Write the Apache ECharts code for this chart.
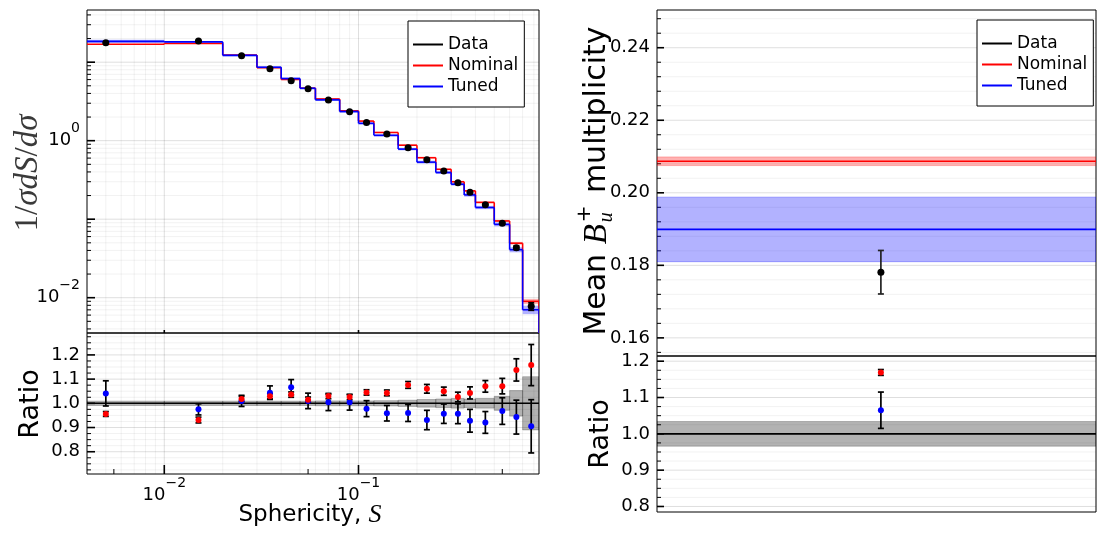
<!DOCTYPE html>
<html><head><meta charset="utf-8">
<script src="https://cdn.jsdelivr.net/npm/echarts@6/dist/echarts.min.js"></script>
<style>html,body{margin:0;padding:0;background:#fff}#c{width:1097px;height:538px}</style>
</head><body><div id="c"></div>
<script>
// ---------------- data ----------------
const binEdges = [0, 0.01, 0.02, 0.03, 0.04, 0.05, 0.06, 0.08, 0.1, 0.12, 0.16, 0.2, 0.25, 0.3, 0.35, 0.4, 0.5, 0.6, 0.7, 0.85];
const binCenters = [0.005, 0.015, 0.025, 0.035, 0.045, 0.055, 0.07, 0.09, 0.11, 0.14, 0.18, 0.225, 0.275, 0.325, 0.375, 0.45, 0.55, 0.65, 0.775];
const dataValues = [17.7, 18.6, 12.1, 8.26, 5.81, 4.6, 3.3, 2.34, 1.70, 1.22, 0.814, 0.573, 0.411, 0.292, 0.220, 0.153, 0.0887, 0.0434, 0.00776];
const dataRelErr = [0.009, 0.009, 0.009, 0.009, 0.009, 0.009, 0.010, 0.010, 0.010, 0.011, 0.013, 0.016, 0.018, 0.020, 0.018, 0.020, 0.029, 0.053, 0.110];
const nominalValues = [16.92, 17.32, 12.32, 8.50, 6.02, 4.67, 3.40, 2.40, 1.777, 1.272, 0.876, 0.607, 0.432, 0.300, 0.2295, 0.1637, 0.0950, 0.0494, 0.00899];
const tunedValues = [18.43, 18.14, 12.22, 8.62, 6.19, 4.65, 3.31, 2.35, 1.663, 1.170, 0.781, 0.533, 0.393, 0.279, 0.204, 0.141, 0.0859, 0.0409, 0.00702];
const nominalRatio = [0.956, 0.931, 1.018, 1.029, 1.036, 1.015, 1.030, 1.026, 1.045, 1.043, 1.076, 1.060, 1.050, 1.026, 1.043, 1.070, 1.071, 1.138, 1.158];
const tunedRatio = [1.041, 0.975, 1.010, 1.044, 1.066, 1.010, 1.004, 1.004, 0.978, 0.959, 0.960, 0.931, 0.957, 0.957, 0.928, 0.921, 0.968, 0.943, 0.905];
const nominalRatioErr = [0.010, 0.012, 0.011, 0.011, 0.011, 0.011, 0.011, 0.011, 0.011, 0.012, 0.014, 0.018, 0.017, 0.020, 0.025, 0.024, 0.032, 0.046, 0.085];
const tunedRatioErr = [0.052, 0.023, 0.023, 0.028, 0.032, 0.032, 0.034, 0.032, 0.033, 0.032, 0.035, 0.040, 0.040, 0.041, 0.047, 0.045, 0.055, 0.070, 0.110];

const meanNames = ['Data', 'Nominal', 'Tuned'];
const meanValues = [0.1781, 0.2087, 0.1899];
const meanErrors = [0.0060, 0.0012, 0.0089];
const meanRatios = [1.0, 1.169, 1.065];
const meanRatioErrors = [0.034, 0.008, 0.050];
const meanX = [0.51];

const xTickExps = [-2, -1];
const yTopTickExps = [-2, 0];
const xExtraTicks = [0.0055, 0.055, 0.55];

// ---------------- axes ranges ----------------
const X_MIN = 0.004, X_MAX = 0.85;
const Y0_MIN = 0.00355, Y0_MAX = 46.2;
const R_MIN = 0.708, R_MAX = 1.2905;
const M_MIN = 0.155, M_MAX = 0.2504;
const MR_MIN = 0.7848, MR_MAX = 1.2143;

const RED = '#ff0000', BLUE = '#0000ff';
const MAJOR = 'rgba(0,0,0,0.13)', MINOR = 'rgba(0,0,0,0.055)';
const FONT = '"DejaVu Sans"';

function logGridValues(minV, maxV, majTick, minTick) {
  const out = [];
  for (let k = -4; k <= 2; k++) for (let m = 1; m <= 9; m++) {
    const v = +(m * Math.pow(10, k)).toPrecision(6);
    if (v > minV * 1.0001 && v < maxV * 0.9999) out.push([v, m === 1 ? 2 : 1, m === 1 ? majTick : minTick]);
  }
  return out;
}
function linGridValues(minV, maxV, step, majorEvery, majTick, minTick) {
  const out = [];
  const s = Math.ceil(minV / step - 1e-9), e = Math.floor(maxV / step + 1e-9);
  for (let n = s; n <= e; n++) {
    const v = +(n * step).toFixed(6);
    const maj = n % majorEvery === 0;
    out.push([v, maj ? 2 : 1, maj ? majTick : minTick]);
  }
  return out;
}
function vGuides(gi, items, yRef) {
  return {
    type: 'custom', xAxisIndex: gi, yAxisIndex: gi, silent: true, z: 1, clip: false,
    data: items.map(d => [d[0], yRef, d[1], d[2]]),
    renderItem(params, api) {
      const cs = params.coordSys;
      const x = api.coord([api.value(0), yRef])[0];
      const lvl = api.value(2), len = api.value(3);
      const ch = [];
      if (lvl > 0) ch.push({ type: 'line', shape: { x1: x, y1: cs.y, x2: x, y2: cs.y + cs.height }, style: { stroke: lvl === 2 ? MAJOR : MINOR, lineWidth: 1 } });
      if (len > 0) ch.push({ type: 'line', shape: { x1: x, y1: cs.y + cs.height, x2: x, y2: cs.y + cs.height - len }, style: { stroke: '#000', lineWidth: lvl === 2 ? 1.6 : 1 } });
      return { type: 'group', children: ch };
    }
  };
}
function hGuides(gi, items, xRef) {
  return {
    type: 'custom', xAxisIndex: gi, yAxisIndex: gi, silent: true, z: 1, clip: false,
    data: items.map(d => [xRef, d[0], d[1], d[2]]),
    renderItem(params, api) {
      const cs = params.coordSys;
      const y = api.coord([xRef, api.value(1)])[1];
      const lvl = api.value(2), len = api.value(3);
      const ch = [];
      if (lvl > 0) ch.push({ type: 'line', shape: { x1: cs.x, y1: y, x2: cs.x + cs.width, y2: y }, style: { stroke: lvl === 2 ? MAJOR : MINOR, lineWidth: 1 } });
      if (len > 0) ch.push({ type: 'line', shape: { x1: cs.x, y1: y, x2: cs.x + len, y2: y }, style: { stroke: '#000', lineWidth: lvl === 2 ? 1.6 : 1 } });
      return { type: 'group', children: ch };
    }
  };
}
function stepSeries(name, values, errs, color, fill, z) {
  return {
    type: 'custom', name, xAxisIndex: 0, yAxisIndex: 0, z, clip: true, silent: true,
    itemStyle: { color },
    data: values.map((v, i) => [binCenters[i], v]),
    renderItem(params, api) {
      const i = params.dataIndex, v = values[i], e = dataValues[i] * errs[i];
      const lo = Math.max(binEdges[i], X_MIN), hi = binEdges[i + 1];
      const a = api.coord([lo, v]), b = api.coord([hi, v]);
      const t = api.coord([lo, v + e]), u = api.coord([hi, v - e]);
      const next = i < values.length - 1 ? values[i + 1] : Y0_MIN;
      const c = api.coord([hi, next]);
      return {
        type: 'group', children: [
          { type: 'rect', shape: { x: t[0], y: t[1], width: u[0] - t[0], height: u[1] - t[1] }, style: { fill } },
          { type: 'line', shape: { x1: a[0], y1: a[1], x2: b[0], y2: b[1] }, style: { stroke: color, lineWidth: 1.6 } },
          { type: 'line', shape: { x1: b[0], y1: b[1], x2: c[0], y2: c[1] }, style: { stroke: color, lineWidth: 1.6 } }
        ]
      };
    }
  };
}
function errorBars(gi, xs, ys, errs, color, cap, z) {
  return {
    type: 'custom', xAxisIndex: gi, yAxisIndex: gi, silent: true, z, clip: true,
    data: xs.map((x, i) => [x, ys[i], errs[i]]),
    renderItem(params, api) {
      const x = api.value(0), y = api.value(1), e = api.value(2);
      const t = api.coord([x, y + e]), b = api.coord([x, y - e]);
      const st = { stroke: color, lineWidth: 1.7 };
      return {
        type: 'group', children: [
          { type: 'line', shape: { x1: t[0], y1: t[1], x2: b[0], y2: b[1] }, style: st },
          { type: 'line', shape: { x1: t[0] - cap, y1: t[1], x2: t[0] + cap, y2: t[1] }, style: st },
          { type: 'line', shape: { x1: b[0] - cap, y1: b[1], x2: b[0] + cap, y2: b[1] }, style: st }
        ]
      };
    }
  };
}
function points(gi, name, xs, ys, color, size, z) {
  return {
    type: 'scatter', name, xAxisIndex: gi, yAxisIndex: gi, z, silent: true,
    symbol: 'circle', symbolSize: size, itemStyle: { color, opacity: 1 },
    data: xs.map((x, i) => [x, ys[i]])
  };
}
function fullBand(gi, xRef, value, err, lineColor, fill, edge, lw, z, name) {
  return {
    type: 'custom', name, xAxisIndex: gi, yAxisIndex: gi, silent: true, z, clip: true,
    itemStyle: { color: lineColor },
    data: [[xRef, value, err]],
    renderItem(params, api) {
      const cs = params.coordSys;
      const y = api.coord([xRef, value])[1];
      const yt = api.coord([xRef, value + err])[1], yb = api.coord([xRef, value - err])[1];
      const ch = [];
      if (err > 0) ch.push({ type: 'rect', shape: { x: cs.x, y: yt, width: cs.width, height: yb - yt }, style: { fill, stroke: edge, lineWidth: 1 } });
      ch.push({ type: 'line', shape: { x1: cs.x, y1: y, x2: cs.x + cs.width, y2: y }, style: { stroke: lineColor, lineWidth: lw } });
      return { type: 'group', children: ch };
    }
  };
}

const supRich = {
  b: { fontSize: 18, fontFamily: FONT, color: '#000' },
  s: { fontSize: 14, fontFamily: FONT, color: '#000', padding: [0, 0, 24, 0] }
};
function logLabel(v, exps) {
  const lg = Math.log10(v), e = Math.round(lg);
  if (Math.abs(lg - e) > 1e-6 || exps.indexOf(e) < 0) return '';
  return '{b|10}{s|' + (e < 0 ? '\u2212' + (-e) : String(e)) + '}';
}
function decLabel(v, step, digits) {
  const n = v / step;
  if (Math.abs(n - Math.round(n)) > 1e-6) return '';
  return v.toFixed(digits);
}
const hiddenAxis = { axisLine: { show: false }, axisTick: { show: false }, splitLine: { show: false } };

// ---------------- series ----------------
const series = [];
// grid 0
series.push(vGuides(0, logGridValues(X_MIN, X_MAX, 3, 0), Y0_MIN));
series.push(hGuides(0, logGridValues(Y0_MIN, Y0_MAX, 8, 4), X_MIN));
series.push(stepSeries('Nominal', nominalValues, nominalRatioErr, RED, 'rgba(255,0,0,0.3)', 3));
series.push(stepSeries('Tuned', tunedValues, tunedRatioErr, BLUE, 'rgba(0,0,255,0.3)', 4));
series.push(errorBars(0, binCenters, dataValues, dataValues.map((d, i) => d * dataRelErr[i]), '#000', 3, 5));
series.push(points(0, 'Data', binCenters, dataValues, '#000', 7, 6));
// grid 1
series.push(vGuides(1, logGridValues(X_MIN, X_MAX, 9, 0).concat(xExtraTicks.map(v => [v, 0, 5])), R_MIN));
series.push(hGuides(1, linGridValues(R_MIN, R_MAX, 0.025, 4, 8, 4), X_MIN));
series.push({
  type: 'custom', xAxisIndex: 1, yAxisIndex: 1, z: 2, clip: true, silent: true,
  data: dataRelErr.map((e, i) => [binCenters[i], 1]),
  renderItem(params, api) {
    const i = params.dataIndex, e = dataRelErr[i];
    const lo = Math.max(binEdges[i], X_MIN), hi = binEdges[i + 1];
    const t = api.coord([lo, 1 + e]), u = api.coord([hi, 1 - e]);
    return { type: 'rect', shape: { x: t[0], y: t[1], width: u[0] - t[0], height: u[1] - t[1] }, style: { fill: 'rgba(0,0,0,0.3)', stroke: 'rgba(0,0,0,0.22)', lineWidth: 1 } };
  }
});
series.push(fullBand(1, X_MIN, 1, 0, '#000', 'none', 'none', 1.6, 3));
series.push(errorBars(1, binCenters, tunedRatio, tunedRatioErr, '#000', 3, 4));
series.push(errorBars(1, binCenters, nominalRatio, nominalRatioErr, '#000', 3, 4));
series.push(points(1, null, binCenters, tunedRatio, BLUE, 6, 5));
series.push(points(1, null, binCenters, nominalRatio, RED, 6, 6));
// grid 2
series.push(hGuides(2, linGridValues(M_MIN, M_MAX, 0.004, 5, 7, 4), 0.5));
series.push(fullBand(2, 0.5, meanValues[1], meanErrors[1], RED, 'rgba(255,0,0,0.3)', 'rgba(255,0,0,0.25)', 1.6, 3));
series.push(fullBand(2, 0.5, meanValues[2], meanErrors[2], BLUE, 'rgba(0,0,255,0.3)', 'rgba(0,0,255,0.3)', 1.6, 4));
series.push(errorBars(2, meanX, [meanValues[0]], [meanErrors[0]], '#222', 3, 5));
series.push(points(2, null, meanX, [meanValues[0]], '#000', 7, 6));
// grid 3
series.push(hGuides(3, linGridValues(MR_MIN, MR_MAX, 0.025, 4, 7, 4), 0.5));
series.push(fullBand(3, 0.5, meanRatios[0], meanRatioErrors[0], '#000', 'rgba(0,0,0,0.3)', 'rgba(0,0,0,0.22)', 1.6, 3));
series.push(errorBars(3, meanX.concat(meanX), [meanRatios[2], meanRatios[1]], [meanRatioErrors[2], meanRatioErrors[1]], '#000', 3, 4));
series.push(points(3, null, meanX, [meanRatios[2]], BLUE, 6, 5));
series.push(points(3, null, meanX, [meanRatios[1]], RED, 6, 6));

const legendData = [
  { name: 'Data', itemStyle: { color: '#000' } },
  { name: 'Nominal', itemStyle: { color: RED } },
  { name: 'Tuned', itemStyle: { color: BLUE } }
];
function legendAt(left, top) {
  return {
    left, top, orient: 'vertical', data: legendData, icon: 'rect', itemWidth: 30, itemHeight: 2,
    itemGap: 4, padding: [15, 6, 12, 5], borderColor: '#000', borderWidth: 1, backgroundColor: '#fff',
    selectedMode: false, textStyle: { fontSize: 17, color: '#000', fontFamily: FONT }
  };
}

// right y-label (Mean B_u^+ multiplicity) built from measured parts
const mctx = document.createElement('canvas').getContext('2d');
function tw(t, f) { mctx.font = f; return mctx.measureText(t).width; }
const fMain = '30px "DejaVu Sans"', fB = 'italic 33px "Liberation Serif"', fS = 'italic 20px "Liberation Serif"', fP = '20px "DejaVu Sans"';
const parts = [
  { t: 'Mean ', f: fMain, dy: 0, adv: true },
  { t: 'B', f: fB, dy: 0, adv: true },
  { t: '+', f: fP, dy: -12, adv: false },
  { t: 'u', f: fS, dy: 10, adv: true },
  { t: '  multiplicity', f: fMain, dy: 0, adv: true }
];
let total = 0; parts.forEach(p => { if (p.adv) total += tw(p.t, p.f) + (p.t === 'B' ? 2 : 0); });
let cur = -total / 2; const labelChildren = [];
parts.forEach(p => {
  labelChildren.push({ type: 'text', x: cur, y: p.dy, style: { text: p.t, font: p.f, fill: '#000', align: 'left', verticalAlign: 'middle' } });
  if (p.adv) cur += tw(p.t, p.f) + (p.t === 'B' ? 2 : 0);
});

const option = {
  animation: false,
  backgroundColor: '#fff',
  textStyle: { fontFamily: FONT },
  grid: [
    { left: 87, top: 10, width: 452, height: 323, show: true, borderColor: '#000', borderWidth: 1, backgroundColor: 'transparent' },
    { left: 87, top: 333, width: 452, height: 141, show: true, borderColor: '#000', borderWidth: 1, backgroundColor: 'transparent' },
    { left: 657, top: 10, width: 439, height: 346, show: true, borderColor: '#000', borderWidth: 1, backgroundColor: 'transparent' },
    { left: 657, top: 356, width: 439, height: 156, show: true, borderColor: '#000', borderWidth: 1, backgroundColor: 'transparent' }
  ],
  xAxis: [
    Object.assign({ type: 'log', gridIndex: 0, min: X_MIN, max: X_MAX, axisLabel: { show: false } }, hiddenAxis),
    Object.assign({ type: 'log', gridIndex: 1, min: X_MIN, max: X_MAX,
      axisLabel: { show: true, margin: 2, formatter: v => logLabel(v, xTickExps), rich: supRich, showMinLabel: false, showMaxLabel: false } }, hiddenAxis),
    Object.assign({ type: 'value', gridIndex: 2, min: 0, max: 1, axisLabel: { show: false } }, hiddenAxis),
    Object.assign({ type: 'value', gridIndex: 3, min: 0, max: 1, axisLabel: { show: false } }, hiddenAxis)
  ],
  yAxis: [
    Object.assign({ type: 'log', gridIndex: 0, min: Y0_MIN, max: Y0_MAX,
      axisLabel: { margin: 7, align: 'right', formatter: v => logLabel(v, yTopTickExps), rich: supRich, showMinLabel: false, showMaxLabel: false } }, hiddenAxis),
    Object.assign({ type: 'value', gridIndex: 1, min: R_MIN, max: R_MAX,
      axisLabel: { margin: 7, fontSize: 18, color: '#000', fontFamily: FONT, formatter: v => decLabel(v, 0.1, 1) } }, hiddenAxis),
    Object.assign({ type: 'value', gridIndex: 2, min: M_MIN, max: M_MAX,
      axisLabel: { margin: 7, fontSize: 18, color: '#000', fontFamily: FONT, formatter: v => decLabel(v, 0.02, 2) } }, hiddenAxis),
    Object.assign({ type: 'value', gridIndex: 3, min: MR_MIN, max: MR_MAX,
      axisLabel: { margin: 7, fontSize: 18, color: '#000', fontFamily: FONT, formatter: v => decLabel(v, 0.1, 1) } }, hiddenAxis)
  ],
  legend: [legendAt(408, 21), legendAt(977, 20)],
  graphic: [
    { type: 'text', x: 28, y: 173, rotation: Math.PI / 2,
      style: { text: '{u|1/}{i|σdS}{u|/}{i|dσ}', rich: {
        u: { font: '33px "Liberation Serif"', fill: '#3a3a3a' },
        i: { font: 'italic 33px "Liberation Serif"', fill: '#3a3a3a' } },
        align: 'center', verticalAlign: 'middle' } },
    { type: 'text', x: 31, y: 404, rotation: Math.PI / 2,
      style: { text: 'Ratio', font: '27px "DejaVu Sans"', fill: '#000', align: 'center', verticalAlign: 'middle' } },
    { type: 'text', x: 310, y: 515,
      style: { text: '{a|Sphericity, }{s|S}', rich: {
        a: { font: '23px "DejaVu Sans"', fill: '#000' },
        s: { font: 'italic 26px "Liberation Serif"', fill: '#000' } },
        align: 'center', verticalAlign: 'middle' } },
    { type: 'group', x: 597, y: 181, rotation: Math.PI / 2, children: labelChildren },
    { type: 'text', x: 601, y: 434, rotation: Math.PI / 2,
      style: { text: 'Ratio', font: '27px "DejaVu Sans"', fill: '#000', align: 'center', verticalAlign: 'middle' } }
  ],
  series
};
const chart = echarts.init(document.getElementById('c'), null, { renderer: 'canvas' });
chart.setOption(option);
</script>
</body></html>
